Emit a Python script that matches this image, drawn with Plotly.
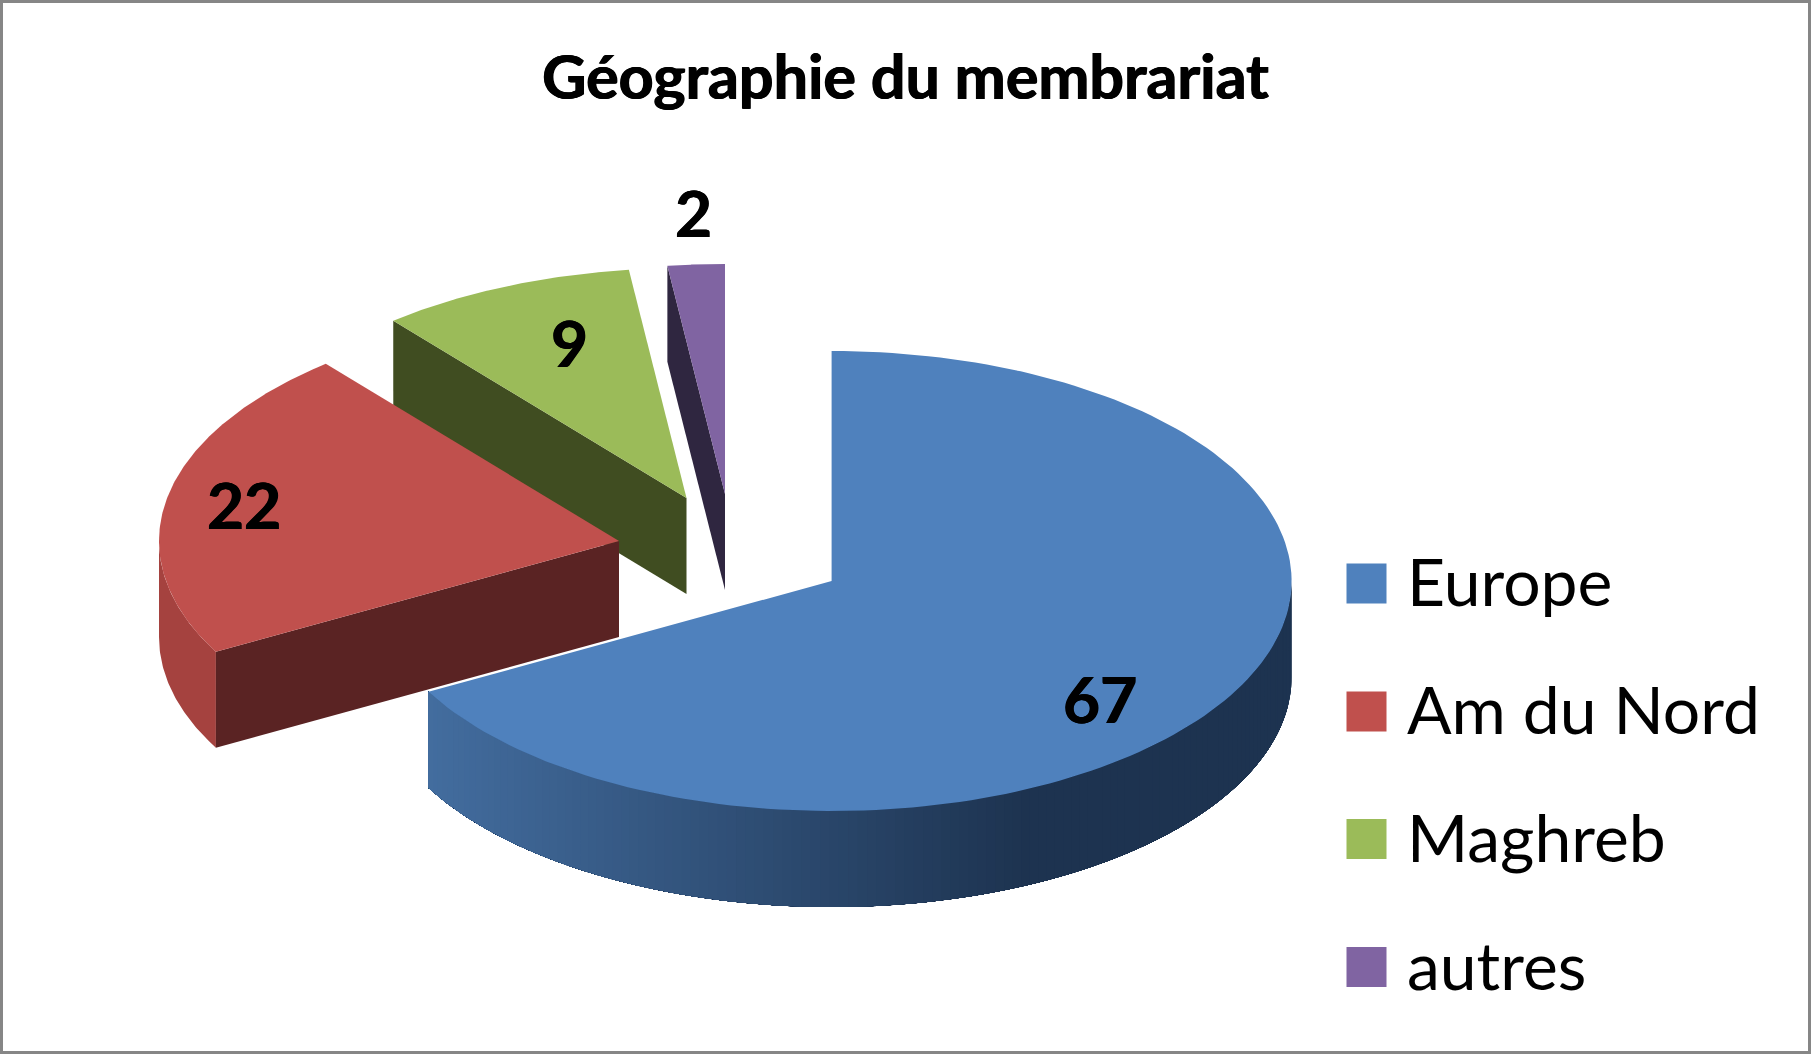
import numpy as np
import plotly.graph_objects as go

# Data
categories = ["Europe", "Am du Nord", "Maghreb", "autres"]
values = [67, 22, 9, 2]
title_text = "Géographie du membrariat"

# Styles
top_colors = ["#4F81BD", "#C0504D", "#9BBB59", "#8064A2"]
cut_colors = ["#436D9F", "#5A2323", "#404D21", "#2F2640"]
red_wall = "#A5423F"
centers = [(831.6, 581), (619, 541), (686.5, 498), (725, 494)]
label_pos = [(1100, 698), (244, 504), (569, 342), (693, 212)]
legend_y = [583.5, 711.5, 839, 967]

RX, RY, DEPTH = 460, 230, 96
FONT = "Lato, Carlito, Calibri, sans-serif"
THICK = "0.6px 0 0 #000, -0.6px 0 0 #000"

total = sum(values)
edges = np.cumsum([0] + values) / total * 2 * np.pi


def rim(c, a):
    return c[0] + RX * np.sin(a), c[1] - RY * np.cos(a)


fig = go.Figure()


def poly(x, y, color):
    fig.add_trace(go.Scatter(
        x=list(x), y=list(y), mode="lines", fill="toself", fillcolor=color,
        line=dict(color=color, width=0), hoverinfo="skip", showlegend=False,
    ))


def top(i):
    c = centers[i]
    a = np.linspace(edges[i], edges[i + 1], 160)
    x, y = rim(c, a)
    poly([c[0], *x, c[0]], [c[1], *y, c[1]], top_colors[i])


def cut_face(i):
    c = centers[i]
    x0, y0 = rim(c, edges[i])
    poly([c[0], x0, x0, c[0], c[0]], [c[1], y0, y0 + DEPTH, c[1] + DEPTH, c[1]], cut_colors[i])


# purple and green at the back
for i in (3, 2):
    cut_face(i)
    top(i)

# red
a = np.linspace(edges[1], 1.5 * np.pi, 60)
x, y = rim(centers[1], a)
poly([*x, *x[::-1]], [*y, *(y[::-1] + DEPTH)], red_wall)
cut_face(1)
top(1)

# blue: outer wall, shaded left to right; each band runs on to the wall's end so no seams appear
c = centers[0]
steps = np.linspace(0.5 * np.pi, edges[1], 130)
left_rgb = np.array([67, 109, 159])
dark_rgb = np.array([29, 51, 80])
xl = rim(c, edges[1])[0]
for a0 in steps[:-1]:
    aa = np.linspace(a0, edges[1], 90)
    x, y = rim(c, aa)
    t = min(1.0, max(0.0, (x[0] - xl) / (1030 - xl)))
    rgb = (left_rgb + (dark_rgb - left_rgb) * t).round().astype(int)
    poly([*x, *x[::-1]], [*y, *(y[::-1] + DEPTH)], f"rgb({rgb[0]},{rgb[1]},{rgb[2]})")
top(0)

# Legend keys
fig.add_trace(go.Scatter(
    x=[1366.5] * 4, y=legend_y, mode="markers",
    marker=dict(symbol="square", size=40, color=top_colors, line=dict(width=0)),
    hoverinfo="skip", showlegend=False,
))

annotations = []
for name, ly in zip(categories, legend_y):
    annotations.append(dict(x=1405, y=ly - 3, text=name, showarrow=False, xanchor="left", yanchor="middle",
                            font=dict(family=FONT, size=66, color="black")))
for v, (lx, ly) in zip(values, label_pos):
    annotations.append(dict(x=lx, y=ly, text=f"<b>{v}</b>", showarrow=False, xanchor="center", yanchor="middle",
                            font=dict(family=FONT, size=64, color="black", shadow=THICK)))

fig.update_layout(
    width=1811, height=1054, margin=dict(l=0, r=0, t=0, b=0),
    paper_bgcolor="white", plot_bgcolor="white", showlegend=False,
    title=dict(text=f"<b>{title_text}</b>", x=0.5, xanchor="center", y=0.926, yanchor="middle",
               font=dict(family=FONT, size=61, color="black", shadow=THICK)),
    xaxis=dict(range=[0, 1811], visible=False, fixedrange=True),
    yaxis=dict(range=[1054, 0], visible=False, fixedrange=True),
    annotations=annotations,
    shapes=[dict(type="rect", xref="paper", yref="paper", x0=0, y0=0, x1=1, y1=1,
                 line=dict(color="#868686", width=6), fillcolor="rgba(0,0,0,0)")],
)

fig.write_html("out.html", config=dict(displayModeBar=False),
               post_script="document.body.style.margin='0';document.body.style.overflow='hidden';")
